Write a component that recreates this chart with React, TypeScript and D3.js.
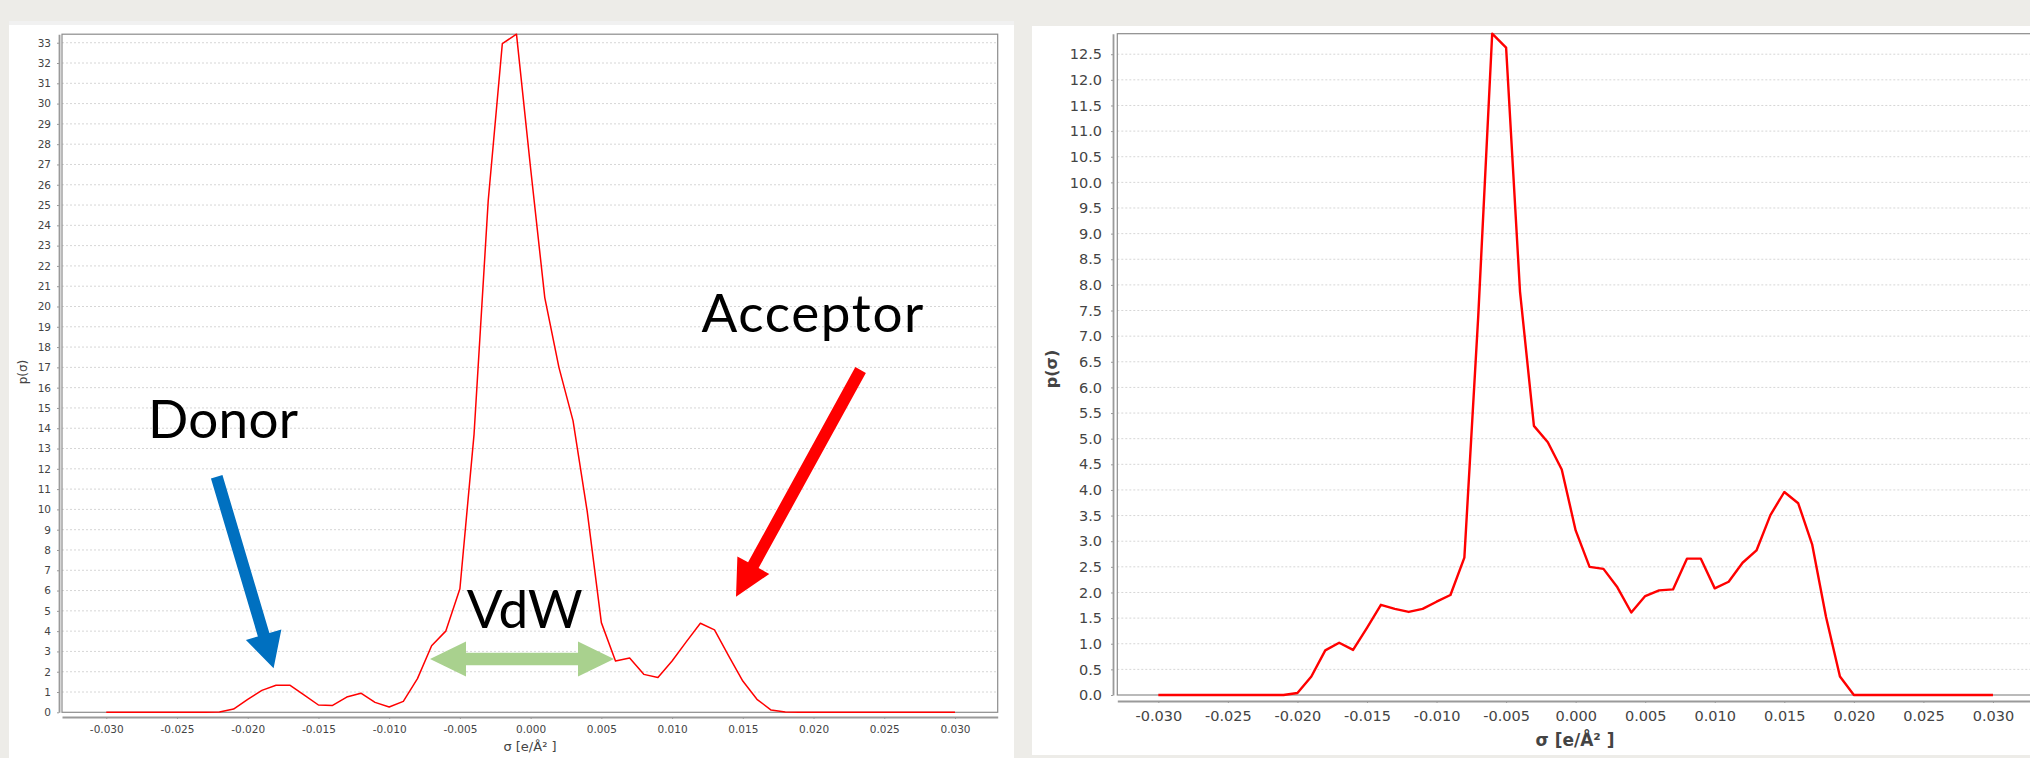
import React, { useEffect, useRef } from 'react'
import * as d3 from 'd3'

// sigma grid of the two sigma profiles (e/Å²)
const sigma = [
  -0.03, -0.029, -0.028, -0.027, -0.026, -0.025, -0.024, -0.023, -0.022, -0.021,
  -0.02, -0.019, -0.018, -0.017, -0.016, -0.015, -0.014, -0.013, -0.012, -0.011,
  -0.01, -0.009, -0.008, -0.007, -0.006, -0.005, -0.004, -0.003, -0.002, -0.001,
  0, 0.001, 0.002, 0.003, 0.004, 0.005, 0.006, 0.007, 0.008, 0.009,
  0.01, 0.011, 0.012, 0.013, 0.014, 0.015, 0.016, 0.017, 0.018, 0.019,
  0.02, 0.021, 0.022, 0.023, 0.024, 0.025, 0.026, 0.027, 0.028, 0.029, 0.03,
]

// left profile p(sigma)
const profileLeft = [
  0, 0, 0, 0, 0, 0, 0, 0, 0.02, 0.16,
  0.64, 1.08, 1.33, 1.33, 0.85, 0.36, 0.34, 0.75, 0.94, 0.49,
  0.26, 0.54, 1.66, 3.28, 4.0, 6.09, 13.7, 25.2, 32.96, 33.42,
  26.8, 20.44, 17.0, 14.36, 9.9, 4.42, 2.53, 2.68, 1.87, 1.71,
  2.53, 3.47, 4.39, 4.06, 2.78, 1.54, 0.64, 0.11, 0.02, 0,
  0, 0, 0, 0, 0, 0, 0, 0, 0, 0, 0,
]

// right profile p(sigma)
const profileRight = [
  0, 0, 0, 0, 0, 0, 0, 0, 0, 0,
  0.04, 0.36, 0.87, 1.02, 0.88, 1.31, 1.76, 1.68, 1.62, 1.68,
  1.82, 1.95, 2.68, 7.4, 12.9, 12.63, 7.87, 5.25, 4.93, 4.4,
  3.21, 2.5, 2.46, 2.1, 1.61, 1.93, 2.04, 2.06, 2.66, 2.66,
  2.08, 2.21, 2.58, 2.82, 3.51, 3.96, 3.74, 2.94, 1.52, 0.36,
  0, 0, 0, 0, 0, 0, 0, 0, 0, 0, 0,
]

const sigmaTicks = [-0.03, -0.025, -0.02, -0.015, -0.01, -0.005, 0, 0.005, 0.01, 0.015, 0.02, 0.025, 0.03]

const leftYTicks = [
  0, 1, 2, 3, 4, 5, 6, 7, 8, 9, 10, 11, 12, 13, 14, 15, 16, 17, 18, 19, 20, 21, 22, 23, 24, 25, 26, 27,
  28, 29, 30, 31, 32, 33,
]

const rightYTicks = [
  0, 0.5, 1, 1.5, 2, 2.5, 3, 3.5, 4, 4.5, 5, 5.5, 6, 6.5, 7, 7.5, 8, 8.5, 9, 9.5, 10, 10.5, 11, 11.5,
  12, 12.5,
]

const xTitle = 'σ [e/Å² ]'
const yTitle = 'p(σ)'

interface PanelSpec {
  values: number[]
  yTicks: number[]
  yFormat: (v: number) => string
  xDomain: [number, number]
  yMax: number
  left: number
  right: number
  top: number
  bottom: number
  yAxisX: number
  xAxisY: number
  tickFont: number
  xPad: number
  yPad: number
  lineWidth: number
  xTitlePos: [number, number]
  yTitlePos: [number, number]
  titleFont: number
  titleWeight: string
}

const leftSpec: PanelSpec = {
  values: profileLeft,
  yTicks: leftYTicks,
  yFormat: (v) => String(v),
  xDomain: [-0.03313, 0.03302],
  yMax: 33.42,
  left: 62,
  right: 997.7,
  top: 34.2,
  bottom: 712.3,
  yAxisX: 59,
  xAxisY: 717,
  tickFont: 10.5,
  xPad: 7,
  yPad: 6,
  lineWidth: 1.5,
  xTitlePos: [530, 751],
  yTitlePos: [27, 372],
  titleFont: 13,
  titleWeight: 'normal',
}

const rightSpec: PanelSpec = {
  values: profileRight,
  yTicks: rightYTicks,
  yFormat: (v) => v.toFixed(1),
  xDomain: [-0.03295, 0.03295],
  yMax: 12.9,
  left: 1117.3,
  right: 2034,
  top: 33.7,
  bottom: 695,
  yAxisX: 1113,
  xAxisY: 701,
  tickFont: 14.5,
  xPad: 8,
  yPad: 9,
  lineWidth: 2.4,
  xTitlePos: [1575, 746],
  yTitlePos: [1057, 369],
  titleFont: 17,
  titleWeight: 'bold',
}

type Pt = [number, number]

// polygon for a straight block arrow, optionally with a head on both ends
function arrowPoints(tail: Pt, tip: Pt, shaft: number, headW: number, headL: number, both = false): Pt[] {
  const dx = tip[0] - tail[0]
  const dy = tip[1] - tail[1]
  const len = Math.hypot(dx, dy)
  const ux = dx / len
  const uy = dy / len
  const nx = -uy
  const ny = ux
  const at = (p: Pt, along: number, across: number): Pt => [p[0] + ux * along + nx * across, p[1] + uy * along + ny * across]
  const pts: Pt[] = []
  if (both) {
    pts.push(tail, at(tail, headL, headW / 2), at(tail, headL, shaft / 2))
  } else {
    pts.push(at(tail, 0, shaft / 2))
  }
  pts.push(at(tip, -headL, shaft / 2), at(tip, -headL, headW / 2), tip, at(tip, -headL, -headW / 2), at(tip, -headL, -shaft / 2))
  if (both) {
    pts.push(at(tail, headL, -shaft / 2), at(tail, headL, -headW / 2))
  } else {
    pts.push(at(tail, 0, -shaft / 2))
  }
  return pts
}

function drawPanel(root: d3.Selection<SVGGElement, unknown, null, undefined>, spec: PanelSpec) {
  const x = d3.scaleLinear().domain(spec.xDomain).range([spec.left, spec.right])
  const y = d3.scaleLinear().domain([0, spec.yMax]).range([spec.bottom, spec.top])
  const g = root.append('g')

  // horizontal dashed grid
  g.append('g')
    .selectAll('line')
    .data(spec.yTicks.filter((v) => v > 0))
    .enter()
    .append('line')
    .attr('x1', spec.left)
    .attr('x2', spec.right)
    .attr('y1', (d) => y(d))
    .attr('y2', (d) => y(d))
    .attr('stroke', '#d6d6d6')
    .attr('stroke-width', 1)
    .attr('stroke-dasharray', '2,2')

  // plot outline
  g.append('rect')
    .attr('x', spec.left)
    .attr('y', spec.top)
    .attr('width', spec.right - spec.left)
    .attr('height', spec.bottom - spec.top)
    .attr('fill', 'none')
    .attr('stroke', '#8c8c8c')
    .attr('stroke-width', 1.2)

  // profile line
  const line = d3
    .line<number>()
    .x((_d, i) => x(sigma[i]))
    .y((d) => y(d))
  g.append('path')
    .datum(spec.values)
    .attr('d', line)
    .attr('fill', 'none')
    .attr('stroke', '#ff0000')
    .attr('stroke-width', spec.lineWidth)
    .attr('stroke-linejoin', 'round')

  // x axis
  const xAxis = d3
    .axisBottom(x)
    .tickValues(sigmaTicks)
    .tickFormat((d) => Number(d).toFixed(3))
    .tickSize(2)
    .tickSizeOuter(0)
    .tickPadding(spec.xPad)
  const gx = g.append('g').attr('transform', `translate(0,${spec.xAxisY})`).call(xAxis)
  gx.select('.domain').attr('stroke', '#9a9a9a').attr('stroke-width', 1.8)
  gx.selectAll('.tick line').attr('stroke', '#9a9a9a')
  gx.selectAll('text')
    .attr('fill', '#444')
    .attr('font-family', '"DejaVu Sans", sans-serif')
    .attr('font-size', spec.tickFont)

  // y axis
  const yAxis = d3
    .axisLeft(y)
    .tickValues(spec.yTicks)
    .tickFormat((d) => spec.yFormat(Number(d)))
    .tickSize(2)
    .tickSizeOuter(0)
    .tickPadding(spec.yPad)
  const gy = g.append('g').attr('transform', `translate(${spec.yAxisX},0)`).call(yAxis)
  gy.select('.domain').attr('stroke', '#9a9a9a').attr('stroke-width', 1.8)
  gy.selectAll('.tick line').attr('stroke', '#9a9a9a')
  gy.selectAll('text')
    .attr('fill', '#444')
    .attr('font-family', '"DejaVu Sans", sans-serif')
    .attr('font-size', spec.tickFont)

  // axis titles
  g.append('text')
    .attr('x', spec.xTitlePos[0])
    .attr('y', spec.xTitlePos[1])
    .attr('text-anchor', 'middle')
    .attr('fill', '#444')
    .attr('font-family', '"DejaVu Sans", sans-serif')
    .attr('font-size', spec.titleFont)
    .attr('font-weight', spec.titleWeight)
    .text(xTitle)
  g.append('text')
    .attr('transform', `translate(${spec.yTitlePos[0]},${spec.yTitlePos[1]}) rotate(-90)`)
    .attr('text-anchor', 'middle')
    .attr('fill', '#444')
    .attr('font-family', '"DejaVu Sans", sans-serif')
    .attr('font-size', spec.titleFont - 1)
    .attr('font-weight', spec.titleWeight)
    .text(yTitle)
}

const SigmaProfiles: React.FC = () => {
  const svgRef = useRef<SVGSVGElement>(null)

  useEffect(() => {
    if (!svgRef.current) {
      return
    }
    const svg = d3.select(svgRef.current)
    svg.selectAll('*').remove()
    const root = svg.append('g')

    // slide background and the two white screenshot panels
    root.append('rect').attr('width', 2030).attr('height', 758).attr('fill', '#edece8')
    root.append('rect').attr('x', 9).attr('y', 21).attr('width', 1005).attr('height', 737).attr('fill', '#ffffff')
    root.append('rect').attr('x', 9).attr('y', 21).attr('width', 1005).attr('height', 4).attr('fill', '#f1f1f1')
    root.append('rect').attr('x', 1032).attr('y', 26).attr('width', 998).attr('height', 729).attr('fill', '#ffffff')

    drawPanel(root, leftSpec)
    drawPanel(root, rightSpec)

    // annotations on the left chart
    const ann = root.append('g')
    const poly = (pts: Pt[]) => pts.map((p) => p.join(',')).join(' ')
    ann.append('polygon')
      .attr('points', poly(arrowPoints([216.7, 476.7], [273.6, 668.3], 12, 37, 35)))
      .attr('fill', '#0070c0')
    ann.append('polygon')
      .attr('points', poly(arrowPoints([860.6, 370], [736, 596.7], 12, 36.4, 36)))
      .attr('fill', '#ff0000')
    ann.append('polygon')
      .attr('points', poly(arrowPoints([430, 659], [614, 659], 12.5, 35, 36, true)))
      .attr('fill', '#a9d18e')

    const labels: [string, number, number, number][] = [
      ['Donor', 148, 438.3, 150],
      ['Acceptor', 701.4, 331.7, 222],
      ['VdW', 466.7, 628.3, 116],
    ]
    labels.forEach(([t, lx, ly, w]) => {
      ann.append('text')
        .attr('x', lx)
        .attr('y', ly)
        .attr('textLength', w)
        .attr('font-family', 'Lato, "Open Sans", sans-serif')
        .attr('font-weight', 400)
        .attr('font-size', 53)
        .attr('fill', '#000')
        .text(t)
    })
  }, [])

  return <svg ref={svgRef} width={2030} height={758} style={{ display: 'block' }} />
}

export default function App() {
  return (
    <div style={{ position: 'absolute', left: 0, top: 0 }}>
      <SigmaProfiles />
    </div>
  )
}
